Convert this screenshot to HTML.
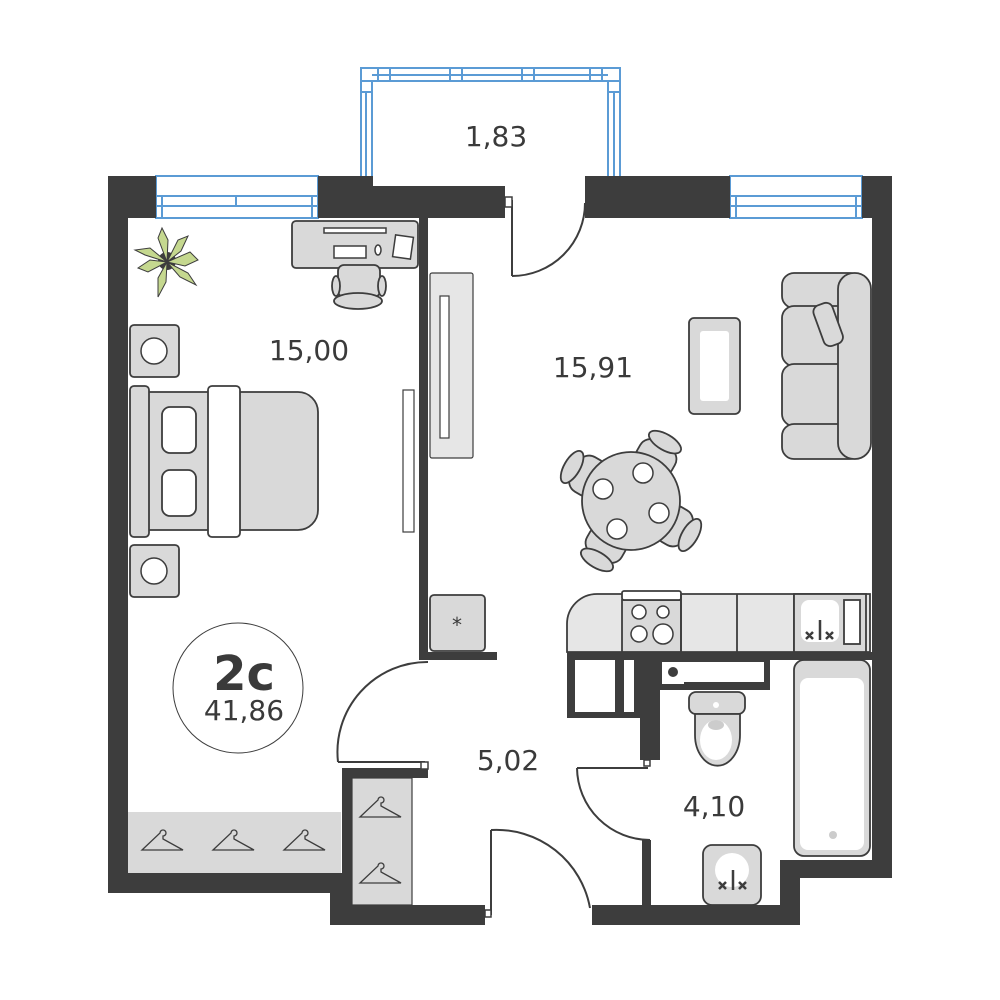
<!DOCTYPE html>
<html><head><meta charset="utf-8"><style>
html,body{margin:0;padding:0;background:#fff;}
svg{display:block}
text{font-family:"DejaVu Sans","Liberation Sans",sans-serif;fill:#3a3a3a}
</style></head><body>
<svg width="1000" height="1000" viewBox="0 0 1000 1000" xmlns="http://www.w3.org/2000/svg">
<!-- Balcony -->
<g fill="none" stroke="#5b9bd5" stroke-width="2">
<path d="M361 176 V68 H620 V176"/>
<path d="M372 176 V81 H608 V176"/>
<path d="M361 81 H372 M361 92 H372 M608 81 H620 M608 92 H620 M372 75 H608 M378 68 V81 M390 68 V81 M450 68 V81 M462 68 V81 M522 68 V81 M534 68 V81 M590 68 V81 M602 68 V81"/>
<path d="M366 92 V176 M614 92 V176"/>
<rect x="156" y="176" width="162" height="42"/>
<path d="M156 196 H318 M156 206 H318 M162 196 V218 M312 196 V218 M236 196 V206"/>
<rect x="730" y="176" width="132" height="42"/>
<path d="M730 196 H862 M730 206 H862 M736 196 V218 M856 196 V218"/>
</g>
<!-- Walls -->
<g fill="#3d3d3d">
<rect x="108" y="176" width="48" height="42"/>
<rect x="108" y="176" width="20" height="717"/>
<rect x="318" y="176" width="55" height="42"/>
<rect x="373" y="186" width="132" height="32"/>
<rect x="585" y="176" width="145" height="42"/>
<rect x="862" y="176" width="30" height="42"/>
<rect x="872" y="176" width="20" height="702"/>
<rect x="108" y="873" width="234" height="20"/>
<rect x="330" y="893" width="22" height="32"/>
<rect x="342" y="768" width="10" height="157"/>
<rect x="342" y="768" width="86" height="10"/>
<rect x="330" y="905" width="155" height="20"/>
<rect x="592" y="905" width="208" height="20"/>
<rect x="780" y="860" width="20" height="60"/>
<rect x="780" y="860" width="112" height="18"/>
<rect x="419" y="218" width="9" height="442"/>
<rect x="419" y="652" width="78" height="8"/>
<rect x="567" y="652" width="305" height="8"/>
<rect x="567" y="652" width="73" height="66"/>
<rect x="640" y="652" width="20" height="108"/>
<rect x="660" y="652" width="110" height="38"/>
<rect x="642" y="840" width="9" height="65"/>
</g>
<g fill="#fff"><rect x="575" y="660" width="40" height="52"/><rect x="624" y="660" width="10" height="52"/><rect x="662" y="662" width="22" height="22"/><rect x="684" y="662" width="80" height="20"/></g>
<circle cx="673" cy="672" r="5" fill="#3d3d3d"/>
<!-- doors -->
<g fill="none" stroke="#3d3d3d" stroke-width="2">
<path d="M512 276 V200 M512 276 A73 73 0 0 0 585 203"/>
<path d="M338 762 H425 M338 762 A90 90 0 0 1 428 662"/>
<path d="M577 768 H648 M577 768 A73 73 0 0 0 650 840"/>
<path d="M491 830 V915 M491 830 A95 95 0 0 1 590 908"/>
</g>
<g fill="#fff" stroke="#3d3d3d" stroke-width="1.5"><rect x="505" y="197" width="7" height="10"/><rect x="421" y="762" width="7" height="7"/><rect x="644" y="760" width="6" height="6"/><rect x="485" y="910" width="6" height="7"/></g>
<!-- furniture -->
<g fill="#d9d9d9" stroke="#3d3d3d" stroke-width="1.8">
<rect x="292" y="221" width="126" height="47" rx="4"/>
<rect x="338" y="265" width="42" height="32" rx="6"/>
<ellipse cx="336" cy="286" rx="4" ry="10"/><ellipse cx="382" cy="286" rx="4" ry="10"/>
<ellipse cx="358" cy="301" rx="24" ry="8"/>
<rect x="130" y="325" width="49" height="52" rx="4"/>
<rect x="130" y="545" width="49" height="52" rx="4"/>
<path d="M148 392 H298 a20 20 0 0 1 20 20 V510 a20 20 0 0 1 -20 20 H148 Z"/>
<rect x="130" y="386" width="19" height="151" rx="4"/>
<rect x="208" y="386" width="32" height="151" rx="4" fill="#fff"/>
<rect x="162" y="407" width="34" height="46" rx="8" fill="#fff"/>
<rect x="162" y="470" width="34" height="46" rx="8" fill="#fff"/>
<rect x="430" y="273" width="43" height="185" rx="2" fill="#e6e6e6" stroke-width="1.2"/>
<rect x="440" y="296" width="9" height="142" fill="#fff" stroke-width="1.2"/>
<rect x="403" y="390" width="11" height="142" fill="#fff" stroke-width="1.2"/>
<rect x="430" y="595" width="55" height="56" rx="4"/>
<rect x="689" y="318" width="51" height="96" rx="5"/>
<rect x="700" y="331" width="29" height="70" rx="3" fill="#fff" stroke="none"/>
<rect x="782" y="273" width="80" height="35" rx="12"/>
<rect x="782" y="306" width="80" height="60" rx="12"/>
<rect x="782" y="364" width="80" height="62" rx="12"/>
<rect x="782" y="424" width="80" height="35" rx="12"/>
<rect x="838" y="273" width="33" height="186" rx="16"/>
<rect x="818" y="303" width="20" height="43" rx="7" transform="rotate(-20 828 324)"/>
<g transform="rotate(30 631 501)">
<rect x="611" y="436" width="40" height="30" rx="12"/><ellipse cx="631" cy="433" rx="18" ry="8"/>
<rect x="611" y="536" width="40" height="30" rx="12"/><ellipse cx="631" cy="569" rx="18" ry="8"/>
<rect x="566" y="481" width="30" height="40" rx="12"/><ellipse cx="563" cy="501" rx="8" ry="18"/>
<rect x="666" y="481" width="30" height="40" rx="12"/><ellipse cx="699" cy="501" rx="8" ry="18"/>
</g>
<circle cx="631" cy="501" r="49"/>
<path d="M597 594 H870 V652 H567 V624 a30 30 0 0 1 30 -30 Z" fill="#e6e6e6"/>
<rect x="622" y="600" width="59" height="52" fill="#d9d9d9"/>
<rect x="622" y="591" width="59" height="9" rx="2" fill="#fff"/>
<path d="M681 594 V652 M737 594 V652 M794 594 V652" fill="none"/>
<rect x="794" y="594" width="72" height="58" fill="#d9d9d9"/>
<rect x="844" y="600" width="16" height="44" fill="#fff"/>
<rect x="801" y="600" width="38" height="42" rx="8" fill="#fff" stroke="none"/>
<rect x="794" y="660" width="76" height="196" rx="10" fill="#d9d9d9"/>
<rect x="800" y="678" width="64" height="172" rx="8" fill="#fff" stroke="none"/>
<rect x="689" y="692" width="56" height="22" rx="7"/>
<path d="M695 714 H740 V735 a22 30 0 0 1 -45 0 Z"/>
<rect x="703" y="845" width="58" height="60" rx="9"/>
<rect x="128" y="812" width="213" height="61" stroke="none"/>
<rect x="352" y="778" width="60" height="127" stroke-width="1.2"/>
</g>
<g fill="#fff" stroke="#3d3d3d" stroke-width="1.5">
<circle cx="154" cy="351" r="13"/><circle cx="154" cy="571" r="13"/>
<rect x="334" y="246" width="32" height="12"/><ellipse cx="378" cy="250" rx="3" ry="5"/>
<rect x="324" y="228" width="62" height="5"/>
<rect x="394" y="236" width="18" height="22" transform="rotate(8 403 247)"/>
<circle cx="639" cy="612" r="7"/><circle cx="663" cy="612" r="6"/><circle cx="639" cy="634" r="8"/><circle cx="663" cy="634" r="10"/>
<circle cx="643" cy="473" r="10"/><circle cx="603" cy="489" r="10"/><circle cx="659" cy="513" r="10"/><circle cx="617" cy="529" r="10"/>
</g>
<g fill="#ccc"><ellipse cx="716" cy="740" rx="16" ry="20" fill="#fff"/><ellipse cx="716" cy="725" rx="8" ry="5"/><circle cx="716" cy="705" r="3" fill="#fff"/><circle cx="732" cy="870" r="17" fill="#fff"/><circle cx="833" cy="835" r="4"/></g>
<g stroke="#3d3d3d" stroke-width="2.5" fill="none"><path d="M733 870 V890 M719 882 l7 7 M726 882 l-7 7 M739 882 l7 7 M746 882 l-7 7"/><path d="M820 620 V640 M806 632 l7 7 M813 632 l-7 7 M826 632 l7 7 M833 632 l-7 7"/></g>
<text x="457" y="632" font-size="20" text-anchor="middle">*</text>
<g fill="none" stroke="#3d3d3d" stroke-width="1.3">
<path id="h" d="M160 833 a3 3 0 1 1 3 3 v3 l20 11 H142 Z"/>
<use href="#h" x="71"/><use href="#h" x="142"/><use href="#h" x="218" y="-33"/><use href="#h" x="218" y="33"/>
</g>
<!-- plant -->
<circle cx="167" cy="261" r="9" fill="#3d3d3d"/>
<g fill="#c5d88f" stroke="#3d3d3d" stroke-width="1">
<path d="M167 262 L158 238 L162 228 L168 240 Z"/>
<path d="M167 262 L178 240 L188 236 L181 251 Z"/>
<path d="M167 262 L190 252 L198 260 L185 266 Z"/>
<path d="M167 262 L188 273 L196 285 L180 277 Z"/>
<path d="M167 262 L166 282 L158 297 L158 278 Z"/>
<path d="M167 262 L148 272 L138 268 L150 260 Z"/>
<path d="M167 262 L145 255 L135 250 L150 248 Z"/>
</g>
<circle cx="238" cy="688" r="65" fill="none" stroke="#3d3d3d" stroke-width="1"/>
<text x="244" y="690" font-size="48" font-weight="bold" text-anchor="middle">2с</text>
<text x="244" y="720" font-size="28" text-anchor="middle">41,86</text>
<text x="496" y="146" font-size="28" text-anchor="middle">1,83</text>
<text x="309" y="360" font-size="28" text-anchor="middle">15,00</text>
<text x="593" y="377" font-size="28" text-anchor="middle">15,91</text>
<text x="508" y="770" font-size="28" text-anchor="middle">5,02</text>
<text x="714" y="816" font-size="28" text-anchor="middle">4,10</text>
</svg>
</body></html>
